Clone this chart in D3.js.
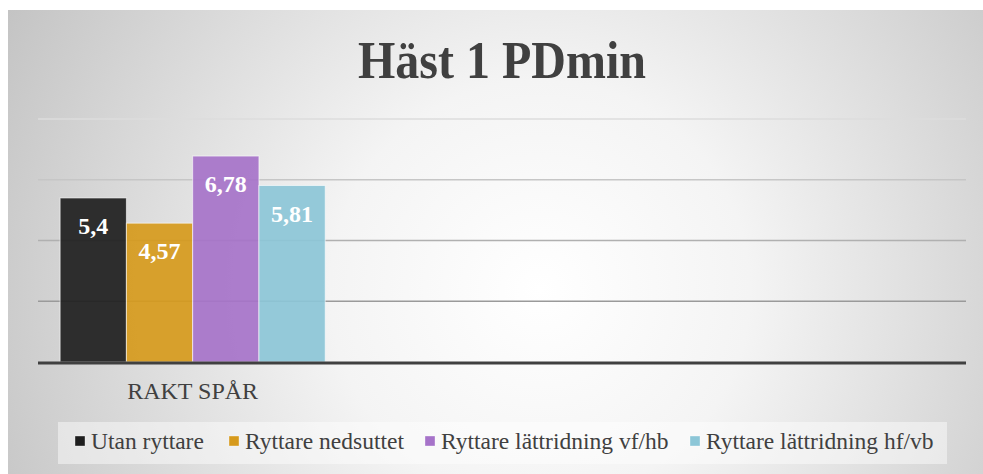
<!DOCTYPE html>
<html>
  <head>
    <meta charset="utf-8" />
    <script src="https://cdn.jsdelivr.net/npm/d3@7"></script>
    <style>
      body { margin: 0; background: #fff; }
      svg { display: block; }
    </style>
  </head>
  <body>
    <svg width="983" height="474"></svg>

    <script type="text/javascript">
      // chart data
      var categories = ["RAKT SPÅR", "", ""];
      var seriesNames = [
        "Utan ryttare",
        "Ryttare nedsuttet",
        "Ryttare lättridning vf/hb",
        "Ryttare lättridning hf/vb",
      ];
      var seriesValues = [[5.4], [4.57], [6.78], [5.81]];
      var seriesColors = ["#1e1e1e", "#d69a1c", "#a673c9", "#8cc6d7"];
      var yTicks = [0, 2, 4, 6, 8];

      var svg = d3.select("svg");
      var fmt = (v) => String(v).replace(".", ",");
      var serif = "'Liberation Serif', 'Times New Roman', serif";

      // background
      var defs = svg.append("defs");
      var grad = defs
        .append("radialGradient")
        .attr("id", "bg")
        .attr("gradientUnits", "userSpaceOnUse")
        .attr("cx", 540)
        .attr("cy", 290)
        .attr("r", 600);
      grad.append("stop").attr("offset", 0).attr("stop-color", "#ffffff");
      grad.append("stop").attr("offset", 0.35).attr("stop-color", "#f4f4f4");
      grad.append("stop").attr("offset", 1).attr("stop-color", "#c4c4c4");

      svg
        .append("rect")
        .attr("x", 8)
        .attr("y", 10)
        .attr("width", 975)
        .attr("height", 464)
        .attr("fill", "url(#bg)");

      // title
      svg
        .append("text")
        .attr("x", 502)
        .attr("y", 78)
        .attr("text-anchor", "middle")
        .attr("font-family", serif)
        .attr("font-weight", "bold")
        .attr("font-size", 52)
        .attr("fill", "#404040")
        .attr("textLength", 288)
        .attr("lengthAdjust", "spacingAndGlyphs")
        .text("Häst 1 PDmin");

      var plot = { left: 38, right: 966, top: 119, bottom: 362 };

      var x0 = d3
        .scaleBand()
        .domain(d3.range(categories.length))
        .range([plot.left, plot.right])
        .paddingInner(0.143)
        .paddingOuter(0.0715);

      var x1 = d3
        .scaleBand()
        .domain(d3.range(seriesNames.length))
        .range([0, x0.bandwidth()]);

      var y = d3.scaleLinear().domain([0, 8]).range([plot.bottom, plot.top]);

      // gridlines (get darker towards the bottom)
      var gridColor = d3
        .scaleLinear()
        .domain([8, 2])
        .range(["#dcdcdc", "#9a9a9a"]);

      svg
        .append("g")
        .selectAll("line")
        .data(yTicks.filter((d) => d > 0))
        .enter()
        .append("line")
        .attr("x1", plot.left)
        .attr("x2", plot.right)
        .attr("y1", (d) => y(d))
        .attr("y2", (d) => y(d))
        .attr("stroke", (d) => gridColor(d))
        .attr("stroke-width", 1.5);

      // bars
      var groups = svg
        .append("g")
        .selectAll("g")
        .data(categories)
        .enter()
        .append("g")
        .attr("transform", (d, i) => "translate(" + x0(i) + ",0)");

      var barData = (ci) =>
        seriesValues
          .map((vals, si) => ({ si: si, v: vals[ci] }))
          .filter((d) => d.v != null);

      groups
        .selectAll("rect")
        .data((d, ci) => barData(ci))
        .enter()
        .append("rect")
        .attr("x", (d) => x1(d.si))
        .attr("y", (d) => y(d.v))
        .attr("width", x1.bandwidth())
        .attr("height", (d) => y(0) - y(d.v))
        .attr("fill", (d) => seriesColors[d.si])
        .attr("fill-opacity", 0.92)
        .attr("stroke", "rgba(255,255,255,0.6)")
        .attr("stroke-width", 1);

      groups
        .selectAll("text")
        .data((d, ci) => barData(ci))
        .enter()
        .append("text")
        .attr("x", (d) => x1(d.si) + x1.bandwidth() / 2)
        .attr("y", (d) => y(d.v) + 36)
        .attr("text-anchor", "middle")
        .attr("font-family", serif)
        .attr("font-weight", "bold")
        .attr("font-size", 24)
        .attr("fill", "#ffffff")
        .text((d) => fmt(d.v));

      // baseline
      svg
        .append("line")
        .attr("x1", plot.left)
        .attr("x2", plot.right)
        .attr("y1", y(0) + 1)
        .attr("y2", y(0) + 1)
        .attr("stroke", "#404040")
        .attr("stroke-width", 3);

      // category labels
      svg
        .append("g")
        .selectAll("text")
        .data(categories)
        .enter()
        .append("text")
        .attr("x", (d, i) => x0(i) + x0.bandwidth() / 2)
        .attr("y", 399)
        .attr("text-anchor", "middle")
        .attr("font-family", serif)
        .attr("font-size", 24)
        .attr("fill", "#404040")
        .text((d) => d);

      // legend
      svg
        .append("rect")
        .attr("x", 58)
        .attr("y", 422)
        .attr("width", 889)
        .attr("height", 42)
        .attr("fill", "rgba(255,255,255,0.45)");

      var legendX = [75, 229, 425, 690];
      var legend = svg
        .append("g")
        .selectAll("g")
        .data(seriesNames)
        .enter()
        .append("g")
        .attr("transform", (d, i) => "translate(" + legendX[i] + ",441)");

      legend
        .append("rect")
        .attr("x", 0)
        .attr("y", -5)
        .attr("width", 10)
        .attr("height", 10)
        .attr("fill", (d, i) => seriesColors[i])
        .attr("stroke", "rgba(255,255,255,0.7)")
        .attr("stroke-width", 0.5);

      legend
        .append("text")
        .attr("x", 16)
        .attr("y", 8)
        .attr("font-family", serif)
        .attr("font-size", 23.5)
        .attr("fill", "#404040")
        .text((d) => d);
    </script>
  </body>
</html>
